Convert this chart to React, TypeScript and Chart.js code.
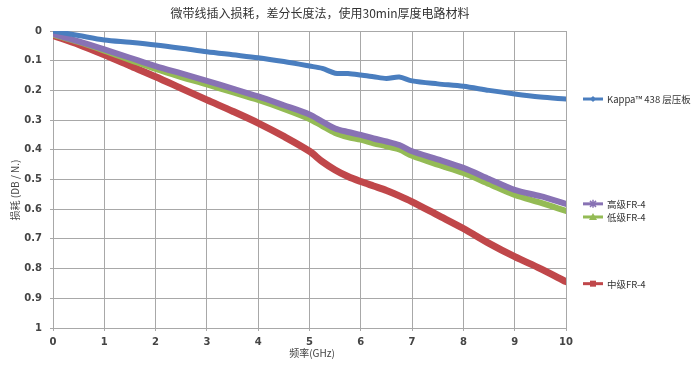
import React, { useEffect, useRef } from "react";
import { Chart, registerables } from "chart.js";

Chart.register(...registerables);

const title = "微带线插入损耗，差分长度法，使用30min厚度电路材料";
const xTitle = "频率(GHz)";
const yTitle = "损耗 (DB / N.)";
const xTicks = [0, 1, 2, 3, 4, 5, 6, 7, 8, 9, 10];
const yTicks = [0, 0.1, 0.2, 0.3, 0.4, 0.5, 0.6, 0.7, 0.8, 0.9, 1];

const freq = [0, 0.5, 1, 1.5, 2, 2.5, 3, 3.5, 4, 4.5, 5, 5.25, 5.5, 5.75, 6, 6.25, 6.5, 6.75, 7, 7.5, 8, 8.5, 9, 9.5, 10];
const kappa = [0.0, 0.015, 0.03, 0.038, 0.047, 0.058, 0.07, 0.08, 0.09, 0.103, 0.118, 0.126, 0.142, 0.143, 0.148, 0.154, 0.16, 0.155, 0.168, 0.178, 0.186, 0.2, 0.212, 0.222, 0.229];
const highFR4 = [0.01, 0.035, 0.062, 0.09, 0.118, 0.143, 0.168, 0.194, 0.22, 0.25, 0.281, 0.305, 0.328, 0.34, 0.35, 0.362, 0.372, 0.384, 0.405, 0.432, 0.461, 0.498, 0.535, 0.556, 0.582];
const lowFR4 = [0.012, 0.037, 0.066, 0.097, 0.128, 0.155, 0.18, 0.206, 0.232, 0.262, 0.296, 0.32, 0.343, 0.357, 0.366, 0.378, 0.388, 0.399, 0.42, 0.45, 0.478, 0.515, 0.552, 0.578, 0.606];
const midFR4 = [0.015, 0.045, 0.08, 0.117, 0.154, 0.193, 0.232, 0.27, 0.31, 0.355, 0.405, 0.44, 0.468, 0.49, 0.507, 0.522, 0.537, 0.555, 0.575, 0.62, 0.665, 0.715, 0.76, 0.8, 0.844];

const seriesNames = ["Kappa™ 438 层压板", "高级FR-4", "低级FR-4", "中级FR-4"];
const seriesValues = [kappa, highFR4, lowFR4, midFR4];
const colors = ["#4a7ebf", "#8872b4", "#94bb55", "#c0474a"];
const widths = [5, 6, 6, 7];
const markers = ["diamond", "star", "triangle", "square"];
const legendOffsets = [0, 0, 6, 2];

const CJK = '"Noto Sans CJK SC", "Noto Sans", sans-serif';

const overlayPlugin = {
  id: "overlay",
  afterDraw(chart: any) {
    const ctx = chart.ctx;
    const ya = chart.scales.y;
    ctx.save();
    ctx.fillStyle = "#333";
    ctx.font = `12px ${CJK}`;
    ctx.textAlign = "center";
    ctx.textBaseline = "middle";
    ctx.fillText(title, 320, 13);
    ctx.font = `10px ${CJK}`;
    ctx.fillStyle = "#444";
    ctx.fillText(xTitle, 312, 353);
    ctx.save();
    ctx.translate(15, 190);
    ctx.rotate(-Math.PI / 2);
    ctx.fillText(yTitle, 0, 0);
    ctx.restore();
    ctx.textAlign = "left";
    ctx.font = `9.5px ${CJK}`;
    seriesNames.forEach((name, i) => {
      const vals = seriesValues[i];
      const y = ya.getPixelForValue(vals[vals.length - 1]) + legendOffsets[i];
      ctx.strokeStyle = colors[i];
      ctx.fillStyle = colors[i];
      ctx.lineWidth = 3;
      ctx.beginPath();
      ctx.moveTo(583, y);
      ctx.lineTo(603, y);
      ctx.stroke();
      const cx = 593;
      const m = markers[i];
      ctx.beginPath();
      if (m === "diamond") {
        ctx.moveTo(cx, y - 3); ctx.lineTo(cx + 3, y); ctx.lineTo(cx, y + 3); ctx.lineTo(cx - 3, y); ctx.closePath(); ctx.fill();
      } else if (m === "square") {
        ctx.fillRect(cx - 3, y - 3, 6, 6);
      } else if (m === "triangle") {
        ctx.moveTo(cx, y - 4); ctx.lineTo(cx + 4, y + 3); ctx.lineTo(cx - 4, y + 3); ctx.closePath(); ctx.fill();
      } else {
        ctx.lineWidth = 1.5;
        ctx.moveTo(cx - 3, y - 3); ctx.lineTo(cx + 3, y + 3);
        ctx.moveTo(cx + 3, y - 3); ctx.lineTo(cx - 3, y + 3);
        ctx.moveTo(cx, y - 4); ctx.lineTo(cx, y + 4);
        ctx.stroke();
      }
      ctx.fillStyle = "#333";
      ctx.textBaseline = "middle";
      ctx.fillText(name, 607, y + 0.5);
    });
    ctx.restore();
  },
};

export default function App() {
  const ref = useRef<HTMLCanvasElement>(null);
  useEffect(() => {
    const canvas = ref.current!;
    const chart = new Chart(canvas, {
      type: "line",
      data: {
        datasets: seriesNames.map((name, i) => ({
          label: name,
          data: freq.map((f, j) => ({ x: f, y: seriesValues[i][j] })),
          borderColor: colors[i],
          backgroundColor: colors[i],
          borderWidth: widths[i],
          pointRadius: 0,
          tension: 0.3,
          fill: false,
          borderCapStyle: "round" as const,
          borderJoinStyle: "round" as const,
        })),
      },
      options: {
        responsive: false,
        animation: false,
        devicePixelRatio: 1,
        layout: { padding: { left: 0, top: 31, right: 133, bottom: 0 } },
        plugins: { legend: { display: false }, tooltip: { enabled: false }, title: { display: false } },
        scales: {
          x: {
            type: "linear",
            min: 0,
            max: 10,
            afterBuildTicks: (axis: any) => { axis.ticks = xTicks.map((v) => ({ value: v })); },
            afterFit: (axis: any) => { axis.height = 38; },
            grid: { color: "#a8a8a8", lineWidth: 1, tickLength: 3 },
            border: { color: "#a8a8a8" },
            ticks: { color: "#444", font: { family: "DejaVu Sans", size: 10, weight: "bold" }, padding: 5, maxRotation: 0, autoSkip: false },
          },
          y: {
            type: "linear",
            reverse: true,
            min: 0,
            max: 1,
            afterBuildTicks: (axis: any) => { axis.ticks = yTicks.map((v) => ({ value: v })); },
            afterFit: (axis: any) => { axis.width = 53; },
            grid: { color: "#a8a8a8", lineWidth: 1, tickLength: 3 },
            border: { color: "#a8a8a8" },
            ticks: {
              color: "#444",
              font: { family: "DejaVu Sans", size: 10, weight: "bold" },
              padding: 8,
              autoSkip: false,
              callback: (v: any) => String(Number(Number(v).toFixed(1))),
            },
          },
        },
      },
      plugins: [overlayPlugin],
    } as any);
    return () => chart.destroy();
  }, []);
  return (
    <div style={{ position: "fixed", left: 0, top: 0, width: 699, height: 366, background: "#fff" }}>
      <canvas ref={ref} width={699} height={366} style={{ width: 699, height: 366, display: "block" }} />
    </div>
  );
}
